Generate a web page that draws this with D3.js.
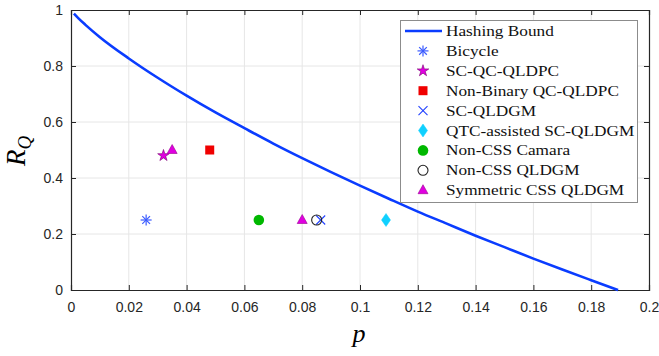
<!DOCTYPE html>
<html><head><meta charset="utf-8">
<script src="https://cdn.jsdelivr.net/npm/d3@7"></script>
<style>body{margin:0;background:#fff}svg{display:block}</style>
</head><body>
<svg id="c" width="659" height="356"></svg>
<script>
// Hashing bound
const boundP = [0.001, 0.0025, 0.005, 0.01, 0.02, 0.03, 0.04, 0.05, 0.06, 0.07, 0.08, 0.09, 0.10, 0.11, 0.12, 0.13, 0.14, 0.15, 0.16, 0.17, 0.18, 0.1893];
const boundR = [0.987, 0.971, 0.947, 0.903, 0.827, 0.758, 0.694, 0.634, 0.578, 0.523, 0.471, 0.421, 0.373, 0.326, 0.280, 0.237, 0.194, 0.153, 0.112, 0.073, 0.035, 0];
// Code points
const bicycle = [[0.026, 0.25]];
const scqcqldpc = [[0.032, 0.48]];
const nonBinary = [[0.048, 0.5]];
const scqldgm = [[0.0864, 0.25]];
const qtc = [[0.109, 0.25]];
const camara = [[0.065, 0.25]];
const noncssQldgm = [[0.085, 0.25]];
const symCss = [[0.035, 0.5], [0.080, 0.25]];
const xTicks = [0, 0.02, 0.04, 0.06, 0.08, 0.1, 0.12, 0.14, 0.16, 0.18, 0.2];
const yTicks = [0, 0.2, 0.4, 0.6, 0.8, 1];
const legendLabels = ["Hashing Bound","Bicycle","SC-QC-QLDPC","Non-Binary QC-QLDPC","SC-QLDGM","QTC-assisted SC-QLDGM","Non-CSS Camara","Non-CSS QLDGM","Symmetric CSS QLDGM"];

const svg = d3.select("#c");
const L = 71, R = 649, T = 10, B = 290;
const x = d3.scaleLinear().domain([0, 0.2]).range([L, R]);
const y = d3.scaleLinear().domain([0, 1]).range([B, T]);

// grid
svg.append("g").selectAll("line").data(xTicks.slice(1, -1)).join("line")
  .attr("x1", d => x(d)).attr("x2", d => x(d)).attr("y1", T).attr("y2", B)
  .attr("stroke", "#e6e6e6").attr("stroke-width", 1);
svg.append("g").selectAll("line").data(yTicks.slice(1, -1)).join("line")
  .attr("y1", d => y(d)).attr("y2", d => y(d)).attr("x1", L).attr("x2", R)
  .attr("stroke", "#e6e6e6").attr("stroke-width", 1);

// axes
const fontTick = "Helvetica, Arial, 'Liberation Sans', sans-serif";
const xb = svg.append("g").attr("transform", `translate(0,${B})`)
  .call(d3.axisBottom(x).tickValues(xTicks).tickSize(-5).tickPadding(12).tickFormat(d3.format("~g")));
const xt = svg.append("g").attr("transform", `translate(0,${T})`)
  .call(d3.axisTop(x).tickValues(xTicks).tickSize(-5).tickFormat(""));
const yl = svg.append("g").attr("transform", `translate(${L},0)`)
  .call(d3.axisLeft(y).tickValues(yTicks).tickSize(-5).tickPadding(8).tickFormat(d3.format("~g")));
const yr = svg.append("g").attr("transform", `translate(${R},0)`)
  .call(d3.axisRight(y).tickValues(yTicks).tickSize(-5).tickFormat(""));
[xb, xt, yl, yr].forEach(g => {
  g.attr("font-family", null).attr("font-size", null);
  g.select(".domain").attr("stroke", "#262626").attr("stroke-width", 1.2);
  g.selectAll(".tick line").attr("stroke", "#262626");
  g.selectAll("text").attr("font-family", fontTick).attr("font-size", 14).attr("fill", "#262626");
});

// bound curve
const line = d3.line().x((d, i) => x(boundP[i])).y((d, i) => y(boundR[i])).curve(d3.curveMonotoneX);
svg.append("path").datum(boundP).attr("d", line).attr("fill", "none")
  .attr("stroke", "#0a3cff").attr("stroke-width", 2.6);

// marker drawers
function drawMarker(g, type, cx, cy) {
  if (type === "asterisk") {
    const s = 5.5;
    [[0, -s, 0, s], [-s, 0, s, 0], [-s*0.7, -s*0.7, s*0.7, s*0.7], [-s*0.7, s*0.7, s*0.7, -s*0.7]].forEach(a =>
      g.append("line").attr("x1", cx + a[0]).attr("y1", cy + a[1]).attr("x2", cx + a[2]).attr("y2", cy + a[3])
        .attr("stroke", "#3b5bff").attr("stroke-width", 1.2));
  } else if (type === "star") {
    g.append("path").attr("d", d3.symbol(d3.symbolStar, 42)()).attr("transform", `translate(${cx},${cy})`)
      .attr("fill", "#e000e0").attr("stroke", "#7a0070").attr("stroke-width", 0.6);
  } else if (type === "square") {
    g.append("rect").attr("x", cx - 4.5).attr("y", cy - 4.5).attr("width", 9).attr("height", 9).attr("fill", "#f00000");
  } else if (type === "x") {
    const s = 4.5;
    [[-s, -s, s, s], [-s, s, s, -s]].forEach(a =>
      g.append("line").attr("x1", cx + a[0]).attr("y1", cy + a[1]).attr("x2", cx + a[2]).attr("y2", cy + a[3])
        .attr("stroke", "#1f3fff").attr("stroke-width", 1.1));
  } else if (type === "diamond") {
    g.append("path").attr("d", `M${cx},${cy-6.5}L${cx+4.5},${cy}L${cx},${cy+6.5}L${cx-4.5},${cy}Z`)
      .attr("fill", "#0fd0ff").attr("stroke", "#0fd0ff").attr("stroke-width", 0.5);
  } else if (type === "dot") {
    g.append("circle").attr("cx", cx).attr("cy", cy).attr("r", 5.3).attr("fill", "#00b800");
  } else if (type === "circle") {
    g.append("circle").attr("cx", cx).attr("cy", cy).attr("r", 5).attr("fill", "none")
      .attr("stroke", "#222").attr("stroke-width", 1.1);
  } else if (type === "triangle") {
    g.append("path").attr("d", `M${cx},${cy-5.5}L${cx+5},${cy+3.5}L${cx-5},${cy+3.5}Z`)
      .attr("fill", "#e000e0").attr("stroke", "#9a0090").attr("stroke-width", 0.6);
  }
}

const series = [
  [bicycle, "asterisk"], [scqcqldpc, "star"], [nonBinary, "square"], [scqldgm, "x"],
  [qtc, "diamond"], [camara, "dot"], [noncssQldgm, "circle"], [symCss, "triangle"]
];
const mg = svg.append("g");
series.forEach(([data, type]) => data.forEach(d => drawMarker(mg, type, x(d[0]), y(d[1]))));

// legend
const lg = svg.append("g");
lg.append("rect").attr("x", 400.5).attr("y", 20.5).attr("width", 237).attr("height", 182)
  .attr("fill", "#fff").attr("stroke", "#8c8c8c").attr("stroke-width", 1);
const types = [null, "asterisk", "star", "square", "x", "diamond", "dot", "circle", "triangle"];
legendLabels.forEach((lab, i) => {
  const yy = 31 + i * 19.9;
  if (i === 0) {
    lg.append("line").attr("x1", 405).attr("x2", 442).attr("y1", yy).attr("y2", yy)
      .attr("stroke", "#0a3cff").attr("stroke-width", 2.6);
  } else {
    drawMarker(lg, types[i], 423, yy);
  }
  lg.append("text").attr("transform", `translate(446,${yy + 5}) scale(1.15,1)`).text(lab)
    .attr("font-family", "'Liberation Serif','Times New Roman',serif").attr("font-size", 15).attr("fill", "#111");
});

// axis titles
svg.append("text").attr("x", 359).attr("y", 342).attr("text-anchor", "middle")
  .attr("font-family", "'Liberation Serif',serif").attr("font-style", "italic").attr("font-size", 26).text("p");
const yt = svg.append("text").attr("transform", "translate(25,166) rotate(-90)").attr("text-anchor", "start")
  .attr("font-family", "'Liberation Serif',serif").attr("font-style", "italic").attr("font-size", 27);
yt.append("tspan").text("R");
yt.append("tspan").attr("font-size", 19).attr("dy", 6).text("Q");
</script>
</body></html>
